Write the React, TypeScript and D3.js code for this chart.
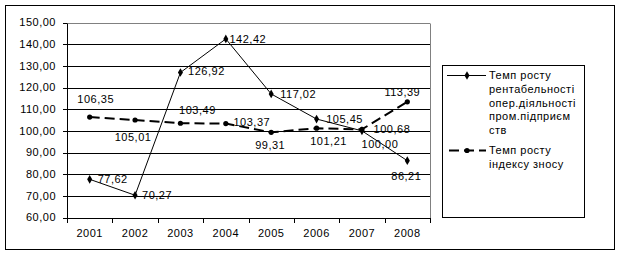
import React from "react";
import * as d3 from "d3";

const years = ["2001", "2002", "2003", "2004", "2005", "2006", "2007", "2008"];
const profitability = [77.62, 70.27, 126.92, 142.42, 117.02, 105.45, 100.0, 86.21];
const depreciation = [106.35, 105.01, 103.49, 103.37, 99.31, 101.21, 100.68, 113.39];
const yTicks = [60, 70, 80, 90, 100, 110, 120, 130, 140, 150];
const seriesNames = [
  ["Темп росту", "рентабельності", "опер.діяльності", "пром.підприєм", "ств"],
  ["Темп росту", "індексу зносу"],
];

// label offsets (layout only), label centre relative to point
const off1 = [[23, 0], [22, 0], [26, -1], [22, 0], [27, 0], [28, 0], [18, 13], [-1, 15]];
const off2 = [[6, -18], [-2, 17], [17, -13], [26, -1], [-1, 13], [12, 13], [30, 0], [-5, -10]];

const fmt = (v: number) => v.toFixed(2).replace(".", ",");
const FONT = "'Liberation Sans', Arial, sans-serif";

export default function App() {
  const W = 620, H = 255;
  const left = 67, right = 430, top = 22.5, bottom = 217.5;
  const x = d3.scaleBand<string>().domain(years).range([left, right]);
  const y = d3.scaleLinear().domain([60, 150]).range([bottom, top]);
  const cx = (d: string) => (x(d) as number) + x.bandwidth() / 2;
  const line = d3.line<number>().x((_, i) => cx(years[i])).y((v) => y(v));
  const diamond = d3.symbol().type(d3.symbolDiamond).size(22)() as string;
  const fs = 11;
  const ls = "0.5px";

  const tickXs = years.map((d) => x(d) as number).concat([right]);

  return (
    <svg width={W} height={H} style={{ position: "absolute", left: 0, top: 0, background: "#fff" }} fontFamily={FONT}>
      <rect x={0} y={0} width={W} height={H} fill="#fff" />
      <rect x={5.5} y={5.5} width={609} height={244} fill="none" stroke="#000" />
      {/* gridlines */}
      {yTicks.map((t) => (
        <line key={t} x1={left} x2={right} y1={Math.round(y(t)) + 0.5} y2={Math.round(y(t)) + 0.5}
          stroke={t === 150 ? "#808080" : "#000"} strokeWidth={1} />
      ))}
      <line x1={right + 0.5} x2={right + 0.5} y1={Math.round(top) + 0.5} y2={Math.round(bottom) + 0.5} stroke="#808080" />
      {/* axes */}
      <line x1={left + 0.5} x2={left + 0.5} y1={Math.round(top) + 0.5} y2={Math.round(bottom) + 0.5} stroke="#000" />
      <line x1={left} x2={right + 1} y1={Math.round(bottom) + 0.5} y2={Math.round(bottom) + 0.5} stroke="#000" />
      {yTicks.map((t) => (
        <g key={"yt" + t}>
          <line x1={left - 4} x2={left} y1={Math.round(y(t)) + 0.5} y2={Math.round(y(t)) + 0.5} stroke="#000" />
          <text x={56} y={y(t)} dy="0.35em" textAnchor="end" fontSize={fs} letterSpacing={ls}>{fmt(t)}</text>
        </g>
      ))}
      {tickXs.map((tx, i) => (
        <line key={"xt" + i} x1={Math.round(tx) + 0.5} x2={Math.round(tx) + 0.5} y1={Math.round(bottom)} y2={Math.round(bottom) + 5} stroke="#000" />
      ))}
      {years.map((d) => (
        <text key={"xl" + d} x={cx(d)} y={237} textAnchor="middle" fontSize={fs} letterSpacing={ls}>{d}</text>
      ))}
      {/* series 2 dashed */}
      <path d={line(depreciation) as string} fill="none" stroke="#000" strokeWidth={2} strokeDasharray="10,5" />
      {depreciation.map((v, i) => (
        <circle key={"c" + i} cx={cx(years[i])} cy={y(v)} r={2.6} fill="#000" />
      ))}
      {/* series 1 thin */}
      <path d={line(profitability) as string} fill="none" stroke="#000" strokeWidth={1} />
      {profitability.map((v, i) => (
        <path key={"d" + i} d={diamond} transform={`translate(${cx(years[i])},${y(v)})`} fill="#000" />
      ))}
      {/* labels */}
      {profitability.map((v, i) => (
        <text key={"l1" + i} x={cx(years[i]) + off1[i][0]} y={y(v) + off1[i][1]} dy="0.35em" textAnchor="middle" fontSize={fs} letterSpacing={ls}>{fmt(v)}</text>
      ))}
      {depreciation.map((v, i) => (
        <text key={"l2" + i} x={cx(years[i]) + off2[i][0]} y={y(v) + off2[i][1]} dy="0.35em" textAnchor="middle" fontSize={fs} letterSpacing={ls}>{fmt(v)}</text>
      ))}
      {/* legend */}
      <rect x={442.5} y={65.5} width={142} height={152} fill="#fff" stroke="#000" />
      <line x1={447} x2={486} y1={75.5} y2={75.5} stroke="#000" />
      <path d={diamond} transform="translate(467,75.5)" fill="#000" />
      {seriesNames[0].map((s, i) => (
        <text key={"lg1" + i} x={489} y={75.5 + i * 13.7} dy="0.35em" fontSize={fs} letterSpacing={ls}>{s}</text>
      ))}
      <line x1={447} x2={486} y1={150.5} y2={150.5} stroke="#000" strokeWidth={2} strokeDasharray="10,5" strokeDashoffset={-2} />
      <circle cx={467} cy={150.5} r={2.6} fill="#000" />
      {seriesNames[1].map((s, i) => (
        <text key={"lg2" + i} x={489} y={150.5 + i * 13.7} dy="0.35em" fontSize={fs} letterSpacing={ls}>{s}</text>
      ))}
    </svg>
  );
}
